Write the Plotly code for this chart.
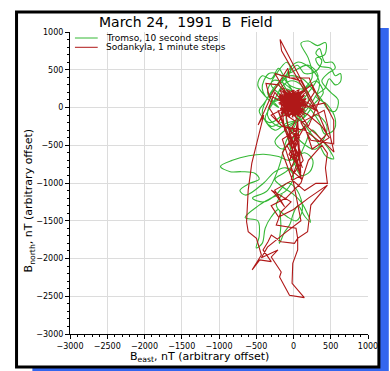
import plotly.graph_objects as go

# ---------------- data ----------------
# Tromso, 10 second steps: (east, north) in nT
tromso_points = [
    (0, 0), (-150, 150), (-300, 300), (-220, 460), (-90, 600), (-40, 480), (-250, 250), (-400, 50), (-460, -50), (-320, -200),
    (-150, -100), (100, 200), (250, 400), (200, 650), (100, 850), (200, 880), (320, 820), (430, 860), (420, 700), (300, 650),
    (350, 550), (500, 520), (560, 420), (630, 450), (630, 340), (560, 300), (480, 380), (420, 250), (300, 150), (450, 40),
    (560, -150), (540, -300), (420, -350), (350, -200), (250, -50), (100, 100), (-100, 300), (-260, 360), (-350, 200), (-200, 0),
    (-380, 150), (-480, 300), (-420, 420), (-300, 380), (-200, 520), (-120, 420), (50, 560), (150, 450), (300, 480), (380, 620),
    (300, 720), (350, 780), (420, 600), (520, 600), (560, 520), (460, 450), (380, 350), (500, 200), (600, 100), (560, -50),
    (460, -20), (380, 100), (250, 250), (120, 380), (-50, 420), (-200, 330), (-320, 180), (-420, -80), (-300, -250), (-150, -200),
    (-100, -300), (-50, -500), (0, -700), (100, -900), (220, -850), (260, -700), (150, -600), (-50, -700), (-200, -650), (-400, -620),
    (-600, -640), (-820, -700), (-980, -780), (-850, -850), (-700, -850), (-520, -870), (-460, -950), (-600, -1010), (-720, -1100), (-640, -1160),
    (-400, -1000), (-250, -850), (-100, -800), (0, -900), (-100, -1100), (-300, -1200), (-470, -1300), (-650, -1460), (-480, -1500), (-460, -1700),
    (-500, -1860), (-420, -1800), (-380, -1600), (-300, -1450), (-200, -1350), (-170, -1550), (-190, -1800), (-120, -1650), (-50, -1550), (0, -1400),
    (60, -1300), (150, -1440), (230, -1520), (180, -1390), (100, -1250), (0, -1150), (-150, -1050), (-250, -950), (-100, -850), (50, -700),
    (150, -500), (250, -300), (350, -400), (480, -560), (540, -680), (430, -640), (350, -500), (200, -300), (50, -100), (-100, 50),
    (-200, 200), (-50, 350), (100, 300), (200, 100), (100, -50), (0, 100), (-250, 100), (-350, -100), (-200, -250), (0, -200),
    (200, 0), (350, 300), (250, 500), (50, 600), (-100, 400), (0, 200), (150, -100), (-50, -250), (-250, -450), (-150, -550),
    (0, -400), (150, -250), (300, -100), (450, -250), (300, -550), (100, -450), (-100, -150), (50, 150), (-150, 250), (-280, 50),
    (-380, -150), (-250, -300), (-80, -200), (120, -150), (280, 50), (400, 200), (300, 350), (150, 250), (-30, 280), (-180, 430),
    (-330, 450), (-420, 250), (-300, 80), (-120, 120), (60, 50), (200, 200), (330, 420), (200, 560), (0, 480), (-150, 380),
    (-50, 150), (50, -150), (-100, -450), (-200, -800), (-350, -1100), (-550, -1200), (-400, -1250), (-230, -1150), (-80, -1000), (50, -1100),
    (120, -1350), (40, -1500), (-80, -1450), (-230, -1300), (-150, -1150),
]

# Sodankyla, 1 minute steps: (east, north) in nT
sodankyla_points = [
    # dense core
    (-150, 80), (40, -60), (-60, 210), (120, 30), (-180, -20), (90, 180), (-20, -130), (150, 110), (-120, -90), (10, 230),
    (-200, 140), (160, -40), (-80, 60), (70, -110), (-30, 170), (130, 200), (-170, 20), (50, 90), (-100, 240), (170, 50),
    (-50, -40), (100, -130), (-190, 170), (30, 20), (-140, -120), (140, 150), (-10, 70), (-90, -10), (80, 240), (-160, 110),
    (110, -70), (-40, 120), (60, -20), (-130, 190), (20, -100), (170, 120), (-110, 40), (0, 200), (-70, -110), (130, -20),
    (-200, 60), (50, 150), (-20, 10), (90, 60), (-150, -60), (150, 220), (-60, 100), (40, -140), (-120, 130), (120, 90),
    (-30, -70), (-180, 230), (70, 120), (-90, 150), (160, 0), (0, -30), (-140, 30), (100, 170), (-60, -130), (30, 110),
    # spike
    (300, -40), (-160, 750), (-180, 900), (330, -60), (200, 60),
    (-100, 190), (60, 30), (-170, -70), (110, 220), (-40, 40), (140, -100), (-130, 160), (20, 60), (-80, -80), (90, 130),
    (-190, 100), (50, -90), (-20, 230), (160, 70), (-110, -30), (10, 150), (120, -40), (-150, 210), (80, 0), (-60, 140),
    # strands in the cluster
    (-200, 300), (-370, 320), (-320, 130), (-76, 520), (-54, 390), (212, 390), (280, 200), (150, 0), (420, 60), (540, -170),
    (540, -480), (234, -433), (100, -200), (411, -36), (544, -590), (300, -350), (0, -100),
    (-250, 200), (-330, 0), (-200, -200), (-50, 100), (250, 300), (350, 100), (200, -250), (-100, 200), (-250, 450), (100, 350),
    (300, 0), (450, -350), (350, -450), (150, -300), (-150, -250), (-300, -100), (-100, 0),
    (-40, 180), (130, 40), (-160, -40), (70, 210), (-10, -110), (-120, 90), (150, 160), (-70, 20), (30, -60), (-180, 180),
    # central column
    (-120, -300), (60, -600), (-40, -820), (110, -950), (20, -700), (-90, -500), (80, -400), (-20, -250), (130, -700), (0, -880),
    (-150, -420), (40, -300), (90, -780), (-60, -620), (150, -250), (250, -550), (480, -400), (380, -250), (200, -100),
    # left branch
    (-300, 150), (-475, -230), (-400, -100), (-560, -740), (-608, -1094), (-630, -1513), (-608, -1645), (-497, -1733), (-431, -1954), (-555, -2150),
    (-453, -2019), (-298, -2041), (-409, -1886), (-342, -1778), (-298, -1690), (-165, -1778), (13, -1799), (56, -1733), (34, -1600), (-232, -1557),
    (-165, -1381), (-33, -1249), (-298, -1094), (-253, -1138), (-120, -1315), (-253, -1094), (100, -900), (0, -500), (50, -200), (-100, -100),
    (13, -697), (56, -168), (97, -871), (-209, -36), (-50, -400), (80, -650), (-30, -950), (150, -1100), (300, -1005), (455, -1005),
    (429, -802), (455, -604), (380, -500), (200, -700), (100, -1000), (-100, -1200), (-300, -1300), (-200, -1450), (0, -1350), (200, -1200),
    # right branch and bottom
    (455, -1028), (233, -1292), (189, -1645), (56, -1733), (56, -1886), (-10, -2063), (-19, -2328), (145, -2518), (-54, -2487), (-187, -2245),
    (-165, -2179), (-298, -1980), (-209, -1886), (-431, -1990), (-350, -1850), (-100, -1650), (100, -1500), (0, -1000), (-150, -600), (50, -300),
    (-50, -700), (60, -450), (-80, -250), (120, -800), (20, -550), (-60, -350), (40, -150),
    # back into the core
    (-90, 110), (100, -20), (-150, 140), (40, 200), (-60, -60), (120, 120), (-190, 40), (0, 90), (80, -100), (-120, 220),
    (160, 30), (-30, -20), (-100, 70), (60, 160), (-170, -90), (110, 60), (-20, 130), (-140, 0), (90, 210), (20, -80),
    (-80, 170), (140, -60), (-50, 60), (30, 180), (-190, 120), (70, -40), (-110, -110), (150, 190), (0, 20), (-60, 230),
]

series_names = ["Tromso, 10 second steps", "Sodankyla, 1 minute steps"]
series_colors = ["#35b835", "#b01818"]
title_text = "March\u00a024,\u00a0\u00a01991\u00a0\u00a0B\u00a0\u00a0Field"
x_title = "B<sub>east</sub>, nT (arbitrary offset)"
y_title = "B<sub>north</sub>, nT (arbitrary offset)"

tromso_east = [p[0] for p in tromso_points]
tromso_north = [p[1] for p in tromso_points]
sodankyla_east = [p[0] for p in sodankyla_points]
sodankyla_north = [p[1] for p in sodankyla_points]

# ---------------- layout helpers (pixel -> paper) ----------------
W, H = 390, 371
L, R, T, B = 70, 19, 32, 37
PW, PH = W - L - R, H - T - B


def px(x):
    return (x - L) / PW


def py(y):
    return (H - B - y) / PH


FONT = "DejaVu Sans"

fig = go.Figure()
fig.add_trace(go.Scatter(x=tromso_east, y=tromso_north, mode="lines",
                         line=dict(color=series_colors[0], width=1.1, shape="spline", smoothing=1.0),
                         name=series_names[0], showlegend=False))
fig.add_trace(go.Scatter(x=sodankyla_east, y=sodankyla_north, mode="lines",
                         line=dict(color=series_colors[1], width=1.1),
                         name=series_names[1], showlegend=False))

axis_common = dict(
    range=[-3000, 1000], tick0=-3000, dtick=500, ticks="outside", ticklen=4,
    tickcolor="black", tickwidth=1, showline=True, linecolor="black", linewidth=1,
    showgrid=True, gridcolor="#dcdcdc", gridwidth=1, zeroline=False,
    tickfont=dict(family=FONT, size=8, color="black"),
    minor=dict(dtick=100, ticks="outside", ticklen=2, tickcolor="black", showgrid=False),
    fixedrange=True,
)

shapes = [
    # blue shadow
    dict(type="rect", xref="paper", yref="paper", x0=px(32), x1=px(392), y0=py(28), y1=py(373),
         fillcolor="#3366ee", line=dict(width=0), layer="below"),
    # white panel with black frame
    dict(type="rect", xref="paper", yref="paper", x0=px(16), x1=px(382), y0=py(12), y1=py(367),
         fillcolor="white", line=dict(color="black", width=3), layer="below"),
]
annotations = [
    dict(text=title_text, xref="paper", yref="paper", x=px(187), y=py(22), showarrow=False,
         xanchor="center", yanchor="middle", font=dict(family=FONT, size=14, color="black")),
    dict(text=x_title, xref="paper", yref="paper", x=px(201), y=py(357), showarrow=False,
         xanchor="center", yanchor="middle", font=dict(family=FONT, size=11, color="black")),
    dict(text=y_title, xref="paper", yref="paper", x=px(29), y=py(201), showarrow=False,
         textangle=-90, xanchor="center", yanchor="middle", font=dict(family=FONT, size=11, color="black")),
]
# compact legend drawn in the top-left corner of the plot
for i, (nm, col) in enumerate(zip(series_names, series_colors)):
    yy = 38 + i * 9.3
    shapes.append(dict(type="line", xref="paper", yref="paper", x0=px(75), x1=px(98), y0=py(yy), y1=py(yy),
                       line=dict(color=col, width=1)))
    annotations.append(dict(text=nm, xref="paper", yref="paper", x=px(104), y=py(yy), showarrow=False,
                            xanchor="left", yanchor="middle",
                            font=dict(family=FONT, size=9, color="black")))

fig.update_layout(
    width=W, height=H, autosize=False,
    margin=dict(l=L, r=R, t=T, b=B, pad=0),
    paper_bgcolor="white", plot_bgcolor="white",
    xaxis=axis_common, yaxis=axis_common,
    shapes=shapes, annotations=annotations,
    showlegend=False,
)

fig.write_html("out.html", config={"displayModeBar": False},
               post_script="document.body.style.margin='0px';document.body.style.padding='0px';")
